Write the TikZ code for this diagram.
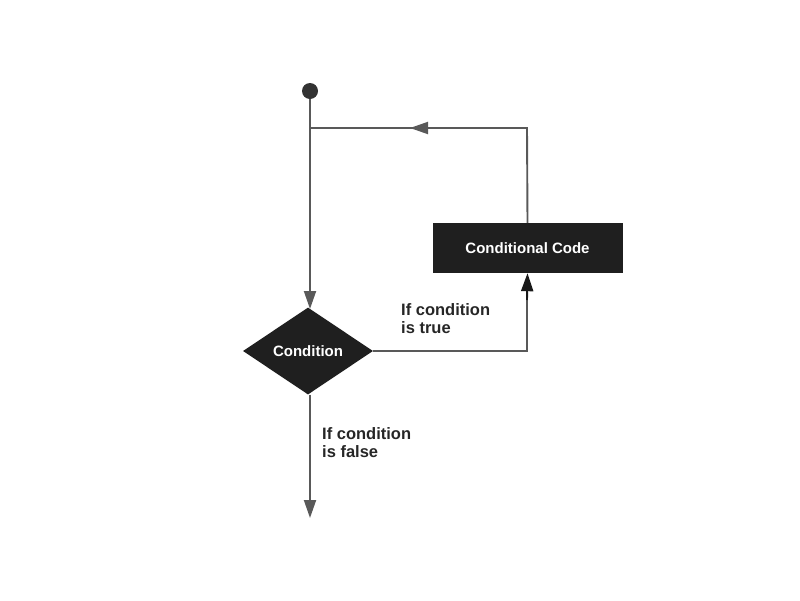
\documentclass[tikz,border=0pt]{standalone}
\usepackage{fontspec}
\setmainfont{Liberation Sans}
\usetikzlibrary{shapes.geometric,arrows.meta}
\begin{document}
\begin{tikzpicture}[x=1pt,y=-1pt,
  conn/.style={draw=black!65,line width=1.9pt},
  tip/.style={-{Triangle[length=18pt,width=12pt]}},
  blk/.style={fill=black!88,text=white,font=\bfseries\fontsize{15}{17}\selectfont},
  lbl/.style={font=\bfseries\fontsize{16.5}{18.5}\selectfont,align=left,anchor=north west,inner sep=0pt,text=black!85}]
\useasboundingbox (0,0) rectangle (800,600);
\fill[black!80] (310,91) circle (8);
\node (startdot) at (310,91) [circle,inner sep=0pt,minimum size=16pt] {};
\node[blk,diamond,minimum width=130pt,minimum height=87pt,inner sep=0pt,aspect=1.5] (cond) at (308,351) {};
\node[blk] at (cond.center) {Condition};
\node[blk,rectangle,minimum width=190pt,minimum height=50pt,inner sep=0pt] (code) at (527.5,248) {Conditional Code};
\coordinate (tl) at (310,128);
\coordinate (tr) at (527,128);
\coordinate (br) at (527,351);
\coordinate (mid) at (410,128);
\coordinate (endp) at (310,518);
\draw[conn] (startdot.south) -- (310,300);
\draw[conn,tip] (310,280) -- (310,309);
\draw[conn] (code.north) -- (tr) -- (tl);
\draw[conn,tip] (440,128) -- (mid);
\draw[conn] (cond.east) -- (br) -- (527,285);
\draw[conn,draw=black!90,tip] (527,300) -- (code.south);
\draw[conn,tip] (cond.south -| 310,0) -- (endp);
\node[lbl] (t1) at (401,303) {If condition\\ is true};
\node[lbl] (t2) at (322,427) {If condition\\is false};
\end{tikzpicture}
\end{document}
